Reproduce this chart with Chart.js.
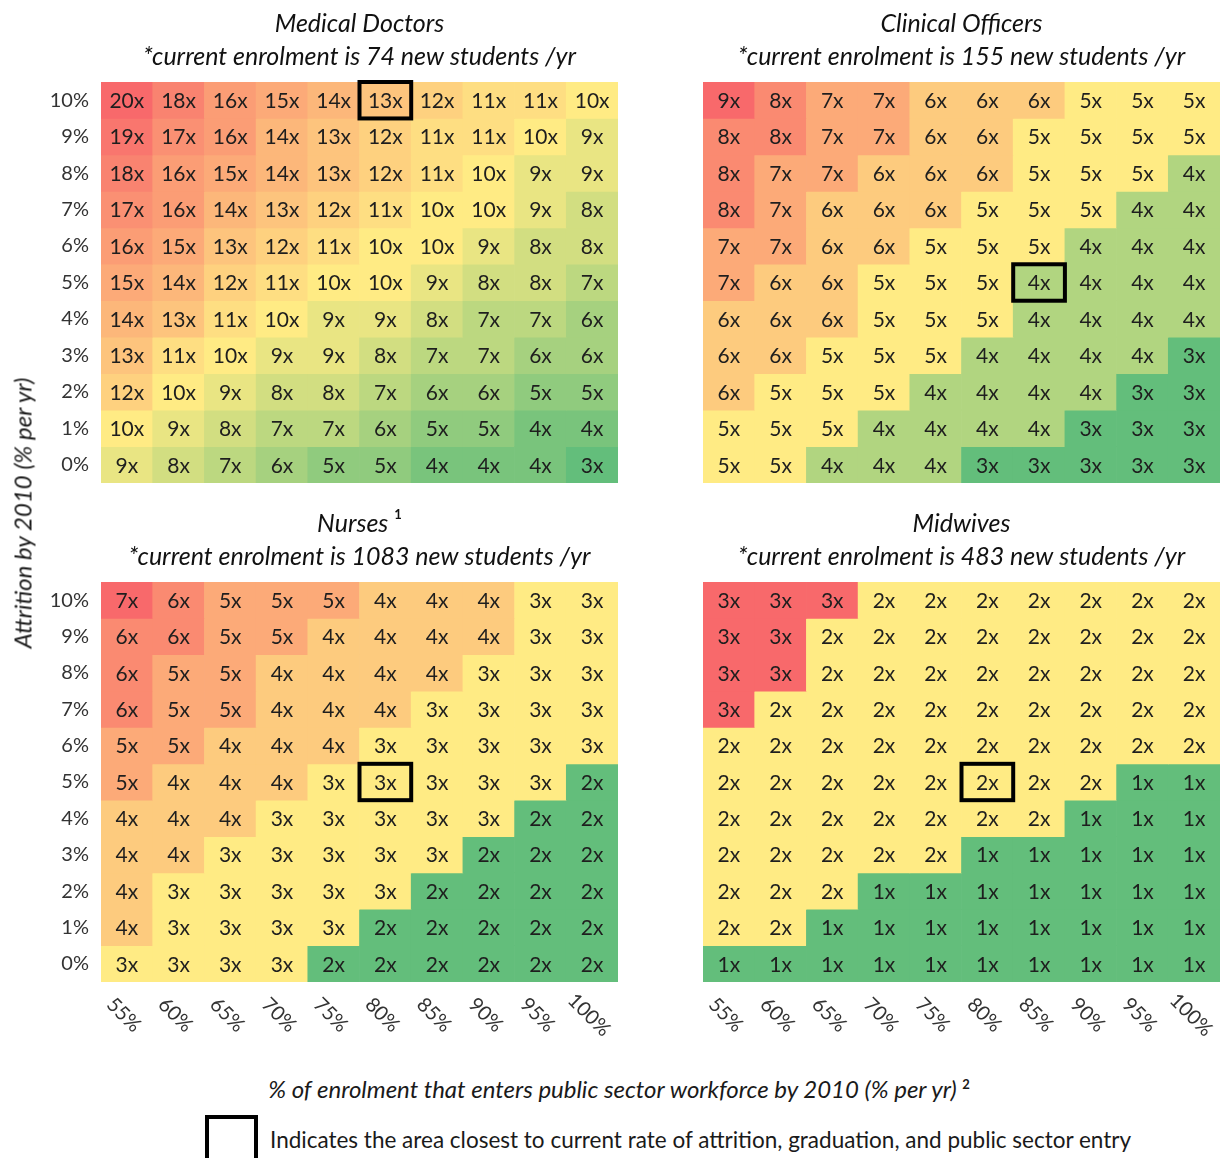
<!DOCTYPE html>
<html><head><meta charset="utf-8">
<script src="https://cdn.jsdelivr.net/npm/chart.js@4.4.1/dist/chart.umd.min.js"></script>
<style>
html,body{margin:0;padding:0;background:#fff;}
body{width:1225px;height:1158px;position:relative;overflow:hidden;font-family:Lato,'Open Sans',sans-serif;}
canvas{position:absolute;}
.t{position:absolute;white-space:nowrap;color:#1a1a1a;}
#ytitle{left:22px;top:513px;transform:translate(-50%,-50%) rotate(-90deg);font-style:italic;font-size:24px;}
#xtitle{left:619px;top:1088px;transform:translate(-50%,-50%);font-style:italic;font-size:24px;}
#xtitle sup{font-size:13px;font-style:normal;font-weight:bold;}
#legbox{position:absolute;left:205px;top:1115px;width:45px;height:45px;border:4px solid #000;}
#legtext{left:270px;top:1139px;transform:translateY(-50%);font-size:22.5px;}
</style></head><body>
<canvas id="c0" width="620" height="495" style="left:0;top:0"></canvas>
<canvas id="c1" width="605" height="495" style="left:620px;top:0"></canvas>
<canvas id="c2" width="620" height="555" style="left:0;top:500px"></canvas>
<canvas id="c3" width="605" height="555" style="left:620px;top:500px"></canvas>
<div class="t" id="ytitle"></div>
<div class="t" id="xtitle"></div>
<div id="legbox"></div>
<div class="t" id="legtext"></div>
<script>
// ---------- data ----------
const columns = ['55%','60%','65%','70%','75%','80%','85%','90%','95%','100%'];
const attrition = [10,9,8,7,6,5,4,3,2,1,0];

const doctors = [
  [20,18,16,15,14,13,12,11,11,10],
  [19,17,16,14,13,12,11,11,10,9],
  [18,16,15,14,13,12,11,10,9,9],
  [17,16,14,13,12,11,10,10,9,8],
  [16,15,13,12,11,10,10,9,8,8],
  [15,14,12,11,10,10,9,8,8,7],
  [14,13,11,10,9,9,8,7,7,6],
  [13,11,10,9,9,8,7,7,6,6],
  [12,10,9,8,8,7,6,6,5,5],
  [10,9,8,7,7,6,5,5,4,4],
  [9,8,7,6,5,5,4,4,4,3]
];
const clinicalOfficers = [
  [9,8,7,7,6,6,6,5,5,5],
  [8,8,7,7,6,6,5,5,5,5],
  [8,7,7,6,6,6,5,5,5,4],
  [8,7,6,6,6,5,5,5,4,4],
  [7,7,6,6,5,5,5,4,4,4],
  [7,6,6,5,5,5,4,4,4,4],
  [6,6,6,5,5,5,4,4,4,4],
  [6,6,5,5,5,4,4,4,4,3],
  [6,5,5,5,4,4,4,4,3,3],
  [5,5,5,4,4,4,4,3,3,3],
  [5,5,4,4,4,3,3,3,3,3]
];
const nurses = [
  [7,6,5,5,5,4,4,4,3,3],
  [6,6,5,5,4,4,4,4,3,3],
  [6,5,5,4,4,4,4,3,3,3],
  [6,5,5,4,4,4,3,3,3,3],
  [5,5,4,4,4,3,3,3,3,3],
  [5,4,4,4,3,3,3,3,3,2],
  [4,4,4,3,3,3,3,3,2,2],
  [4,4,3,3,3,3,3,2,2,2],
  [4,3,3,3,3,3,2,2,2,2],
  [4,3,3,3,3,2,2,2,2,2],
  [3,3,3,3,2,2,2,2,2,2]
];
const midwives = [
  [3,3,3,2,2,2,2,2,2,2],
  [3,3,2,2,2,2,2,2,2,2],
  [3,3,2,2,2,2,2,2,2,2],
  [3,2,2,2,2,2,2,2,2,2],
  [2,2,2,2,2,2,2,2,2,2],
  [2,2,2,2,2,2,2,2,1,1],
  [2,2,2,2,2,2,2,1,1,1],
  [2,2,2,2,2,1,1,1,1,1],
  [2,2,2,1,1,1,1,1,1,1],
  [2,2,1,1,1,1,1,1,1,1],
  [1,1,1,1,1,1,1,1,1,1]
];

const panelTitles = ['Medical Doctors','Clinical Officers','Nurses','Midwives'];
const panelSuperscripts = ['','','1',''];
const panelSubtitles = [
  '*current enrolment is 74 new students /yr',
  '*current enrolment is 155 new students /yr',
  '*current enrolment is 1083 new students /yr',
  '*current enrolment is 483 new students /yr'
];
// highlighted cell: [attrition %, column label]
const highlightAttrition = [10,5,5,5];
const highlightColumn = ['80%','85%','80%','80%'];

const yAxisTitle = 'Attrition by 2010 (% per yr)';
const xAxisTitle = '% of enrolment that enters public sector workforce by 2010 (% per yr)';
const xAxisTitleSup = '2';
const legendText = 'Indicates the area closest to current rate of attrition, graduation, and public sector entry';

// ---------- styling ----------
const FONT = "Lato, 'Open Sans', sans-serif";
const LOW = [99,190,123], MID = [255,235,132], HIGH = [248,105,107];

function median(arr){const s=[...arr].sort((a,b)=>a-b);const n=s.length;return n%2?s[(n-1)/2]:(s[n/2-1]+s[n/2])/2;}
function lerp(a,b,t){return a.map((v,i)=>Math.round(v+(b[i]-v)*t));}
function colorScale(values){
  const flat=values.flat();
  const mn=Math.min(...flat), mx=Math.max(...flat), md=median(flat);
  return v=>{
    let c;
    if(v<=md){c=lerp(LOW,MID,md===mn?1:(v-mn)/(md-mn));}
    else{c=lerp(MID,HIGH,mx===md?1:(v-md)/(mx-md));}
    return `rgb(${c[0]},${c[1]},${c[2]})`;
  };
}

const cellLabels = {
  id:'cellLabels',
  afterDatasetsDraw(chart){
    const ctx=chart.ctx; const vals=chart.options.plugins.cellLabels.values;
    ctx.save();
    ctx.font=`21px ${FONT}`; ctx.fillStyle='#1e1e1e'; ctx.textAlign='center'; ctx.textBaseline='middle';
    chart.data.datasets.forEach((ds,di)=>{
      chart.getDatasetMeta(di).data.forEach((el,ci)=>{
        ctx.fillText(vals[di][ci]+'x', el.x, (el.y+el.base)/2+1);
      });
    });
    // highlight box
    const o=chart.options.plugins.cellLabels;
    const di=attrition.indexOf(o.hlRow), ci=columns.indexOf(o.hlCol);
    const el=chart.getDatasetMeta(di).data[ci];
    const top=Math.min(el.y,el.base), h=Math.abs(el.base-el.y);
    ctx.lineWidth=4; ctx.strokeStyle='#000';
    ctx.strokeRect(el.x-el.width/2, top, el.width, h);
    ctx.restore();
  }
};
const panelText = {
  id:'panelText',
  afterDraw(chart){
    const o=chart.options.plugins.panelText; const a=chart.chartArea; const ctx=chart.ctx;
    const cx=(a.left+a.right)/2;
    const TF=`italic 25px ${FONT}`, SF=`bold 13px ${FONT}`;
    ctx.save(); ctx.fillStyle='#111'; ctx.textBaseline='middle';
    ctx.font=TF;
    const tw=ctx.measureText(o.title).width;
    let supW=0;
    if(o.sup){ctx.font=SF; supW=ctx.measureText(o.sup).width+6;}
    ctx.font=TF; ctx.textAlign='left';
    const x0=cx-(tw+supW)/2;
    ctx.fillText(o.title, x0, a.top-58);
    if(o.sup){ctx.font=SF; ctx.fillText(o.sup, x0+tw+6, a.top-67);}
    ctx.font=TF; ctx.textAlign='center';
    ctx.fillText(o.subtitle, cx, a.top-25);
    if(o.xLabels){
      const xs=chart.scales.x;
      ctx.font=`20px ${FONT}`; ctx.fillStyle='#333';
      columns.forEach((c,i)=>{
        ctx.save();
        ctx.translate(xs.getPixelForValue(i)-3, a.bottom+33);
        ctx.rotate(Math.PI/4);
        ctx.textAlign='center'; ctx.textBaseline='middle';
        ctx.fillText(c,0,0);
        ctx.restore();
      });
    }
    ctx.restore();
  }
};

const panelValues=[doctors,clinicalOfficers,nurses,midwives];
const panelCfg=[
  {id:'c0',yW:101,showY:true,padR:2,padB:12,xLabels:false},
  {id:'c1',yW:83,showY:false,padR:5,padB:12,xLabels:false},
  {id:'c2',yW:101,showY:true,padR:2,padB:73,xLabels:true},
  {id:'c3',yW:83,showY:false,padR:5,padB:73,xLabels:true}
];

panelCfg.forEach((p,pi)=>{
  const vals=panelValues[pi]; const col=colorScale(vals);
  const datasets=attrition.map((a,ri)=>({
    label:a+'%',
    data:columns.map(()=>[a-0.5,a+0.5]),
    backgroundColor:vals[ri].map(col),
    borderWidth:0, barPercentage:1, categoryPercentage:1, grouped:false
  }));
  new Chart(document.getElementById(p.id),{
    type:'bar',
    data:{labels:columns,datasets},
    options:{
      responsive:false, animation:false, devicePixelRatio:1,
      layout:{padding:{top:82,bottom:p.padB,right:p.padR,left:0}},
      scales:{
        x:{type:'category',display:false},
        y:{type:'linear',min:-0.5,max:10.5,
           grid:{display:false,drawTicks:false},border:{display:false},
           afterBuildTicks:s=>{s.ticks=attrition.map(v=>({value:v}));},
           afterFit:s=>{s.width=p.yW; s.paddingTop=0; s.paddingBottom=0;},
           ticks:{display:p.showY,padding:12,color:'#333',font:{family:FONT,size:20},callback:v=>v+'%'}}
      },
      plugins:{
        legend:{display:false},tooltip:{enabled:false},
        cellLabels:{values:vals,hlRow:highlightAttrition[pi],hlCol:highlightColumn[pi]},
        panelText:{title:panelTitles[pi],sup:panelSuperscripts[pi],subtitle:panelSubtitles[pi],xLabels:p.xLabels}
      }
    },
    plugins:[cellLabels,panelText]
  });
});

document.getElementById('ytitle').textContent=yAxisTitle;
document.getElementById('xtitle').appendChild(document.createTextNode(xAxisTitle+' '));
const sup=document.createElement('sup'); sup.textContent=xAxisTitleSup; document.getElementById('xtitle').appendChild(sup);
document.getElementById('legtext').textContent=legendText;
</script>
</body></html>
